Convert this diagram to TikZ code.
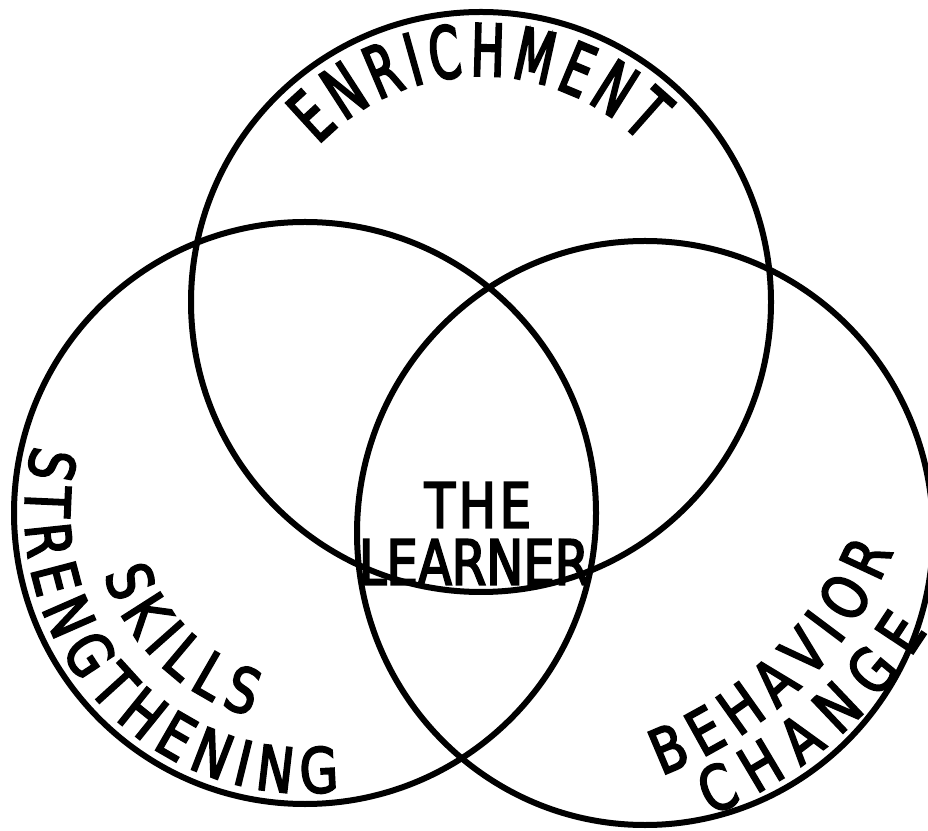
\documentclass[tikz,border=0pt]{standalone}
\usepackage{fontspec}
\newfontfamily\handN[FakeStretch=0.62,FakeBold=3]{DejaVu Sans}
\newfontfamily\handW[FakeStretch=0.8,FakeBold=3]{DejaVu Sans}
\usetikzlibrary{decorations.text}
\begin{document}
\begin{tikzpicture}[x=1pt,y=1pt,
  ring/.style={line width=6pt},
  arctext/.style={decorate, decoration={text along path, text={|\handW\fontsize{62pt}{62pt}\selectfont|#1}, text align={fit to path}}},
  arctextN/.style={decorate, decoration={text along path, text={|\handN\fontsize{72pt}{72pt}\selectfont|#1}, text align={fit to path}}},
  label/.style={font=\handW\fontsize{62pt}{62pt}\selectfont, inner sep=0pt}
]
\useasboundingbox (0,0) rectangle (928,830);
\fill[white] (0,0) rectangle (928,830);
\coordinate (E) at (481,528);
\coordinate (S) at (305,317);
\coordinate (B) at (645,297);
\coordinate (Bt) at (519.8,432.9);
\coordinate (Ct) at (539.5,436.2);
\draw[ring] (E) circle[radius=290];
\draw[ring] (S) circle[radius=291];
\draw[ring] (B) ellipse[x radius=288, y radius=292];
% ENRICHMENT
\path[arctextN={ENRICHMENT}] ([shift={(136:226)}]E) arc[start angle=136, end angle=45, radius=226];
% SKILLS STRENGTHENING
\path[arctext={STRENGTHENING}] ([shift={(166:280)}]S) arc[start angle=166, end angle=277, radius=280];
\path[arctext={SKILLS}] ([shift={(197:210)}]S) arc[start angle=197, end angle=255, radius=210];
% BEHAVIOR CHANGE
\path[arctext={BEHAVIOR}] ([shift={(290.5:404)}]Bt) arc[start angle=290.5, end angle=337.5, radius=404];
\path[arctext={CHANGE}] ([shift={(292.1:455)}]Ct) arc[start angle=292.1, end angle=328.5, radius=455];
% THE LEARNER
\node[label] (the) at (478,325) {\addfontfeature{LetterSpace=6}THE};
\node[label] (learner) at (474,268) {LEARNER};
\end{tikzpicture}
\end{document}
